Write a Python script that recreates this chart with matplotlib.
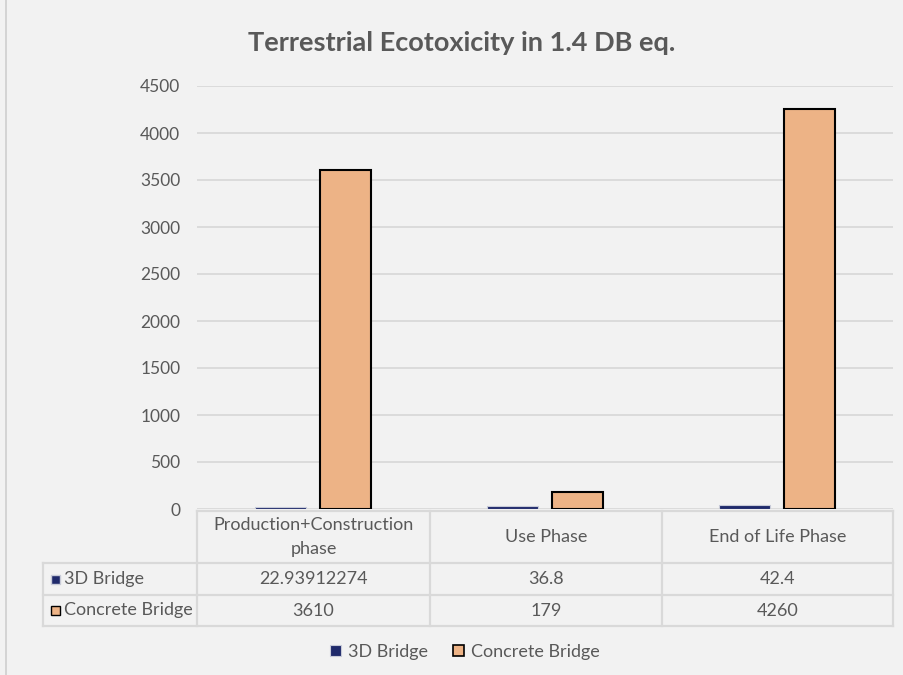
import matplotlib.pyplot as plt
from matplotlib.patches import Rectangle

# values per life-cycle phase
phases = ['Production+Construction\nphase', 'Use Phase', 'End of Life Phase']
bridge_3d = [22.93912274, 36.8, 42.4]
bridge_concrete = [3610, 179, 4260]
bridge_3d_labels = ['22.93912274', '36.8', '42.4']
bridge_concrete_labels = ['3610', '179', '4260']
series_names = ['3D Bridge', 'Concrete Bridge']
yticks = [0, 500, 1000, 1500, 2000, 2500, 3000, 3500, 4000, 4500]

navy = '#1f2a6b'
orange = '#edb386'
text_grey = '#595959'
line_grey = '#d9d9d9'
bg = '#f2f2f2'

plt.rcParams['font.family'] = ['Lato', 'DejaVu Sans']

W, H = 904, 675
fig = plt.figure(figsize=(W / 100, H / 100), dpi=100, facecolor=bg)

# overlay in pixel units for title, table and border
ov = fig.add_axes([0, 0, 1, 1], zorder=0)
ov.set_xlim(0, W)
ov.set_ylim(H, 0)
ov.axis('off')
ov.plot([6, 6], [0, H], color='#cfcfcf', lw=1.2)

ov.text(462, 43, 'Terrestrial Ecotoxicity in 1.4 DB eq.', ha='center', va='center',
        fontsize=19.5, fontweight='bold', color=text_grey)

# plot area
x0, x1, ybot, ytop = 197, 893, 509, 86
ax = fig.add_axes([x0 / W, 1 - ybot / H, (x1 - x0) / W, (ybot - ytop) / H], zorder=1)
ax.set_facecolor('none')
xs = range(len(phases))
w = 0.22
ax.bar([x - 0.14 for x in xs], bridge_3d, width=w, color=navy, edgecolor='#c8cbd8', linewidth=0.8)
ax.bar([x + 0.14 for x in xs], bridge_concrete, width=w, color=orange, edgecolor='black', linewidth=1.5)
ax.set_xlim(-0.5, 2.5)
ax.set_ylim(0, 4500)
ax.set_yticks(yticks)
ax.set_yticklabels([str(t) for t in yticks], fontsize=12.5, color=text_grey)
ax.tick_params(axis='y', length=0, pad=12)
ax.tick_params(axis='x', length=0, labelbottom=False)
ax.grid(axis='y', color=line_grey, lw=1.3)
ax.set_axisbelow(True)
for s in ax.spines.values():
    s.set_visible(False)

# data table under the plot
cols = [197, 430, 662, 893]
rows = [511, 563, 595, 626]
kw = dict(color=line_grey, lw=1.6, zorder=2)
ov.plot([197, 893], [rows[0], rows[0]], **kw)
for y in rows[1:]:
    ov.plot([43, 893], [y, y], **kw)
for x in cols:
    ov.plot([x, x], [rows[0], rows[-1]], **kw)
ov.plot([43, 43], [rows[1], rows[-1]], **kw)

fs = 13
for i, name in enumerate(phases):
    cx = (cols[i] + cols[i + 1]) / 2
    ov.text(cx, (rows[0] + rows[1]) / 2, name, ha='center', va='center',
            fontsize=fs, color=text_grey, linespacing=1.6)
    ov.text(cx, (rows[1] + rows[2]) / 2, bridge_3d_labels[i], ha='center', va='center',
            fontsize=fs, color=text_grey)
    ov.text(cx, (rows[2] + rows[3]) / 2, bridge_concrete_labels[i], ha='center', va='center',
            fontsize=fs, color=text_grey)

for j, (name, fc, ec) in enumerate(zip(series_names, [navy, orange], ['#c8cbd8', 'black'])):
    cy = (rows[j + 1] + rows[j + 2]) / 2
    ov.add_patch(Rectangle((51, cy - 4.5), 9, 9, facecolor=fc, edgecolor=ec, lw=1))
    ov.text(64, cy, name, ha='left', va='center', fontsize=fs, color=text_grey)

# legend
handles = [Rectangle((0, 0), 1, 1, facecolor=navy, edgecolor='#c8cbd8', lw=0.8),
           Rectangle((0, 0), 1, 1, facecolor=orange, edgecolor='black', lw=1.2)]
fig.legend(handles, series_names, loc='center', bbox_to_anchor=(465 / W, 1 - 652 / H),
           ncol=2, frameon=False, fontsize=fs, labelcolor=text_grey,
           handlelength=0.6, handleheight=0.6, handletextpad=0.4, columnspacing=1.4)

fig.savefig('out.png', dpi=100, facecolor=bg)
